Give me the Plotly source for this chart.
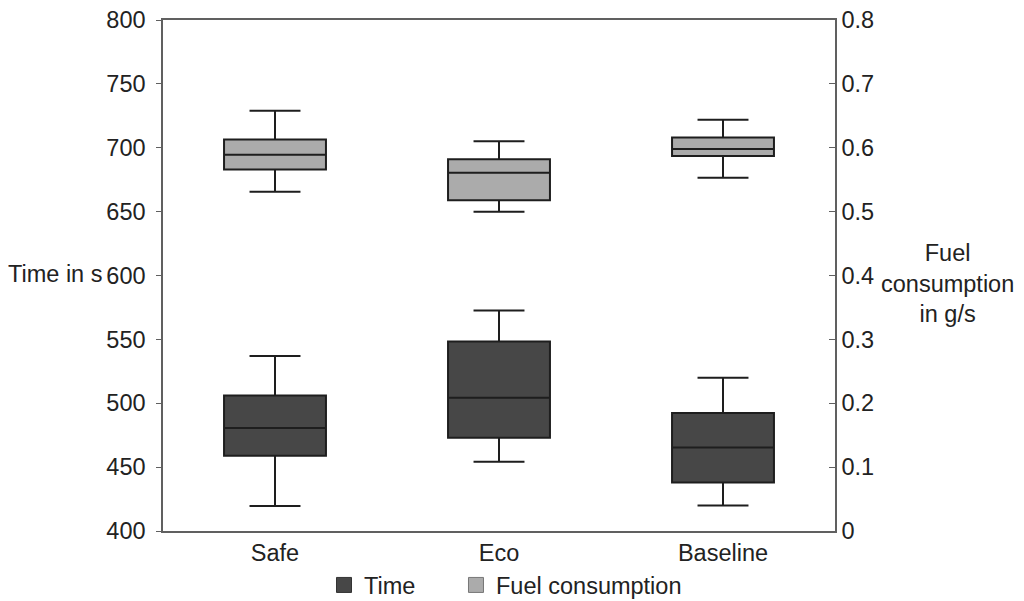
import plotly.graph_objects as go

categories = ["Safe", "Eco", "Baseline"]

# Time in s (left axis)
time_lower = [419.5, 454.2, 420.0]
time_q1 = [458.9, 472.9, 438.0]
time_median = [480.7, 504.4, 465.4]
time_q3 = [506.0, 548.4, 492.4]
time_upper = [537.0, 572.7, 520.0]

# Fuel consumption in g/s (right axis)
fuel_lower = [0.531, 0.500, 0.553]
fuel_q1 = [0.566, 0.518, 0.587]
fuel_median = [0.589, 0.561, 0.598]
fuel_q3 = [0.613, 0.582, 0.616]
fuel_upper = [0.658, 0.610, 0.644]

time_color = "#474747"
fuel_color = "#ababab"
line_color = "#1e1e1e"
axis_color = "#606060"
text_color = "#222222"
font_family = "Liberation Sans, Arial, sans-serif"
fsize = 23.5

# page has an 8px body margin; size the figure to fit the 1024x601 window
W, H = 1016, 593

fig = go.Figure()

fig.add_trace(go.Box(
    x=categories, q1=time_q1, median=time_median, q3=time_q3,
    lowerfence=time_lower, upperfence=time_upper,
    name="Time", fillcolor=time_color,
    line=dict(color=line_color, width=2),
    width=0.455, whiskerwidth=0.5, showlegend=False,
    hoverinfo="skip", yaxis="y",
))
fig.add_trace(go.Box(
    x=categories, q1=fuel_q1, median=fuel_median, q3=fuel_q3,
    lowerfence=fuel_lower, upperfence=fuel_upper,
    name="Fuel consumption", fillcolor=fuel_color,
    line=dict(color=line_color, width=2),
    width=0.455, whiskerwidth=0.5, showlegend=False,
    hoverinfo="skip", yaxis="y2",
))

# legend entries
fig.add_trace(go.Scatter(
    x=[None], y=[None], mode="markers", name="Time", legend="legend",
    marker=dict(symbol="square", size=15, color=time_color,
                line=dict(color="#333333", width=1)),
))
fig.add_trace(go.Scatter(
    x=[None], y=[None], mode="markers", name="Fuel consumption", legend="legend2",
    marker=dict(symbol="square", size=15, color=fuel_color,
                line=dict(color="#777777", width=1)),
))

legend_common = dict(
    orientation="h", y=-0.106, yanchor="middle", xanchor="left",
    font=dict(size=fsize), itemsizing="trace", bgcolor="rgba(0,0,0,0)",
    itemwidth=30,
)

fig.update_layout(
    width=W, height=H,
    margin=dict(l=155, r=189, t=12, b=70, autoexpand=False),
    paper_bgcolor="white", plot_bgcolor="white",
    font=dict(family=font_family, size=fsize, color=text_color),
    boxmode="overlay",
    showlegend=True,
    legend=dict(x=0.2396, **legend_common),
    legend2=dict(x=0.436, **legend_common),
    xaxis=dict(
        type="category", range=[-0.5, 2.5], automargin=False,
        showline=True, linecolor=axis_color, linewidth=1.5, mirror=True,
        ticks="", showgrid=False, zeroline=False,
    ),
    yaxis=dict(
        range=[400, 800], dtick=50, tick0=400, automargin=False,
        showline=True, linecolor=axis_color, linewidth=1.5,
        ticks="outside", ticklen=5, tickcolor=axis_color,
        ticklabelstandoff=6, ticklabeloverflow="allow",
        showgrid=False, zeroline=False,
    ),
    yaxis2=dict(
        range=[0, 0.8], dtick=0.1, tick0=0, overlaying="y", side="right",
        automargin=False, ticklabeloverflow="allow",
        showline=True, linecolor=axis_color, linewidth=1.5,
        ticks="inside", ticklen=6, tickcolor=axis_color,
        showgrid=False, zeroline=False,
    ),
    annotations=[
        dict(text="Time in s", xref="paper", yref="y", x=-0.0878, y=601,
             xanchor="right", yanchor="middle", showarrow=False,
             font=dict(size=fsize)),
        dict(text="Fuel<br>consumption<br>in g/s", xref="paper", yref="paper",
             x=1.168, y=0.485, xanchor="center", yanchor="middle",
             showarrow=False, align="center", font=dict(size=fsize)),
    ],
)

fig.write_html("out.html")
